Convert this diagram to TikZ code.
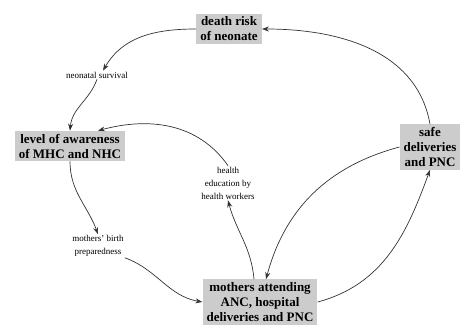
\documentclass[tikz,border=0pt]{standalone}
\usepackage{fontspec}
\setmainfont{Liberation Serif}
\usetikzlibrary{positioning, arrows.meta}

\begin{document}
\begin{tikzpicture}[
		x=1pt, y=-1pt,
		% Style for the shaded factor boxes
		factor/.style={
			fill=gray!40, draw=none, align=center,
			font=\fontsize{13}{15}\selectfont\bfseries,
			inner xsep=4pt, inner ysep=3pt
		},
		% Style for the plain edge labels
		effect/.style={align=center, font=\fontsize{9}{13}\selectfont, inner sep=1pt},
		% Style for the links
		link/.style={-{Stealth[length=7pt, width=5pt]}, draw=black!80, line width=0.7pt}
		]
		
		\useasboundingbox (0,0) rectangle (470,329);
		
		% Factor boxes
		\node[factor] (death) at (229,29) {death risk\\of neonate};
		\node[factor] (aware) at (70,146) {level of awareness\\of MHC and NHC};
		\node[factor] (safe) at (430,147) {safe\\deliveries\\and PNC};
		\node[factor] (mothers) at (260,302) {mothers attending\\ANC, hospital\\deliveries and PNC};
		
		% Labels between the boxes
		\node[effect] (neo) at (97,75) {neonatal survival};
		\node[effect] (health) at (228,183) {health\\education by\\health workers};
		\node[effect] (prep) at (98,246) {mothers' birth\\preparedness};
		
		% Links
		\draw[link] (safe.north) to[out=100, in=0] (death.east);
		\draw[link] (death.west) to[out=180, in=60] ([xshift=6pt]neo.north);
		\draw[link] (neo.south) to[out=-110, in=85] (aware.north);
		\draw[link] (aware.south) to[out=-90, in=110] (prep.north);
		\draw[link] (prep.south east) to[out=-20, in=170] (mothers.west);
		\draw[link] ([xshift=-6pt]mothers.north) to[out=95, in=-75] (health.south);
		\draw[link] (health.north) to[out=125, in=15] ([xshift=28pt]aware.north);
		\draw[link] (safe.west) to[out=195, in=75] ([xshift=6pt]mothers.north);
		\draw[link] (mothers.east) to[out=15, in=-110] (safe.south);
	\end{tikzpicture}
\end{document}
